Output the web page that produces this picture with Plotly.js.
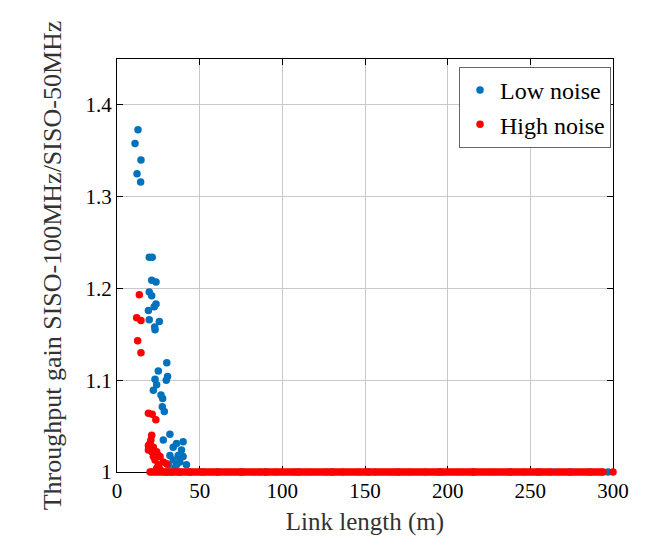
<!DOCTYPE html>
<html>
<head>
<meta charset="utf-8">
<script src="https://cdn.plot.ly/plotly-3.0.1.min.js"></script>
<style>html,body{margin:0;padding:0;background:#fff;}#chart{width:649px;height:546px;}</style>
</head>
<body>
<div id="chart"></div>
<script>
// ---- data ----
const seriesNames = ["Low noise", "High noise"];

// Low noise: points above the baseline
const lowX = [12.7, 10.9, 14.5, 12.1, 14.3, 19.5, 21.3, 21, 23.6, 19.5, 21, 23.6, 22.5, 19, 19.5, 25.6, 23, 22.8,
              30.1, 25, 30.6, 29.8, 23, 24, 22, 26.6, 27.6, 27.4, 28.6, 32, 28, 36, 40, 34, 39, 32, 37, 40, 34, 38, 42, 36, 31, 35];
const lowY = [1.373, 1.358, 1.340, 1.325, 1.316, 1.234, 1.234, 1.209, 1.207, 1.196, 1.192, 1.183, 1.180, 1.176, 1.166, 1.164, 1.155, 1.158,
              1.119, 1.110, 1.104, 1.100, 1.101, 1.095, 1.089, 1.084, 1.080, 1.071, 1.066, 1.041, 1.035, 1.031, 1.033, 1.027, 1.024, 1.018, 1.018, 1.017, 1.013, 1.011, 1.008, 1.008, 1.008, 1.005];
// Low noise: points lying on the gain = 1 baseline
const lowBaseX = [30, 33, 38, 44, 52, 61, 75, 90, 110, 130, 152, 170, 195, 215, 238, 255, 264, 275, 286, 297];

// High noise: points above the baseline
const highX = [13.5, 11.9, 14.5, 12.5, 14.5, 19, 21.3, 23.5, 21, 20.5, 19, 22, 19, 21, 24, 25, 22, 26, 28, 25, 30, 26, 24, 20, 23];
const highY = [1.193, 1.168, 1.165, 1.143, 1.130, 1.064, 1.063, 1.057, 1.040, 1.035, 1.029, 1.027, 1.024, 1.022, 1.022, 1.018, 1.017, 1.017, 1.011, 1.008, 1.009, 1.003, 1.004, 1.031, 1.013];
// High noise: points lying on the gain = 1 baseline
const highBaseX = [20, 21, 22.5, 24, 25, 26.5, 28, 29, 30.5, 32, 33, 34.5, 36, 37, 38.5, 40, 41.5, 43, 44, 45.5, 47, 48.5, 50, 51.5, 53,
                   54.5, 56, 57, 58.5, 60, 61.5, 63, 64.5, 66, 67, 68.5, 70, 71.5, 73, 74.5, 76, 77, 78.5, 80, 81.5, 83, 84.5, 86,
                   87, 88.5, 90, 91.5, 93, 94.5, 96, 97, 98.5, 100, 101.5, 103, 104.5, 106, 107, 108.5, 110, 111.5, 113, 114.5,
                   116, 117, 118.5, 120, 121.5, 123, 124.5, 126, 127, 128.5, 130, 131.5, 133, 134.5, 136, 137, 138.5, 140, 141.5,
                   143, 144.5, 146, 147, 148.5, 150, 151.5, 153, 154.5, 156, 157, 158.5, 160, 161.5, 163, 164.5, 166, 167, 168.5,
                   170, 171.5, 173, 174.5, 176, 177, 178.5, 180, 181.5, 183, 184.5, 186, 187, 188.5, 190, 191.5, 193, 194.5, 196,
                   197, 198.5, 200, 201.5, 203, 204.5, 206, 207, 208.5, 210, 211.5, 213, 214.5, 216, 217, 218.5, 220, 221.5, 223,
                   224.5, 226, 227, 228.5, 230, 231.5, 233, 234.5, 236, 237, 238.5, 240, 241.5, 243, 244.5, 246, 247, 248.5, 250,
                   251.5, 253, 254.5, 256, 257, 258.5, 260, 261.5, 262.5, 265.5, 267, 268.5, 270, 271.5, 273, 274, 276.5, 278,
                   279.5, 281, 282.5, 284, 285.5, 287, 288.5, 290, 291.5, 293, 294, 300];
const BASE = 1.0;

const xTicks = [0, 50, 100, 150, 200, 250, 300];
const yTicks = [1.0, 1.1, 1.2, 1.3, 1.4];
const yTickText = ["1", "1.1", "1.2", "1.3", "1.4"];

// ---- figure ----
const FONT = "Liberation Serif";
const lowColor = "#0072BD";
const highColor = "#FF0000";

const traces = [
  {
    name: seriesNames[0], type: "scatter", mode: "markers",
    x: lowX.concat(lowBaseX), y: lowY.concat(lowBaseX.map(() => BASE)),
    marker: {color: lowColor, size: 7.5, line: {width: 0}}, cliponaxis: false
  },
  {
    name: seriesNames[1], type: "scatter", mode: "markers",
    x: highX.concat(highBaseX), y: highY.concat(highBaseX.map(() => BASE)),
    marker: {color: highColor, size: 7.5, line: {width: 0}}, cliponaxis: false
  }
];

const axisCommon = {
  showline: true, linecolor: "#000", linewidth: 1, mirror: "ticks",
  ticks: "inside", ticklen: 6, tickcolor: "#000", tickwidth: 1,
  showgrid: true, gridcolor: "#c8c8c8", gridwidth: 1, zeroline: false,
  layer: "below traces",
  tickfont: {family: FONT, size: 21, color: "#000"}
};

const layout = {
  width: 649, height: 546,
  margin: {l: 117, r: 36, t: 59, b: 74},
  paper_bgcolor: "#fff", plot_bgcolor: "#fff",
  showlegend: true,
  legend: {
    x: 0.996, y: 0.981, xanchor: "right", yanchor: "top",
    bgcolor: "#fff", bordercolor: "#666", borderwidth: 1,
    font: {family: FONT, size: 24, color: "#000"},
    itemwidth: 30, tracegroupgap: 0
  },
  xaxis: Object.assign({}, axisCommon, {
    range: [0, 300], tickvals: xTicks, ticktext: xTicks.map(String),
    title: {text: "Link length (m)", font: {family: FONT, size: 25, color: "#333"}, standoff: 10}
  }),
  yaxis: Object.assign({}, axisCommon, {
    range: [1.0, 1.45], tickvals: yTicks, ticktext: yTickText,
    title: {text: "Throughput gain SISO-100MHz/SISO-50MHz", font: {family: FONT, size: 26, color: "#333"}, standoff: 16}
  })
};

Plotly.newPlot("chart", traces, layout, {displayModeBar: false, staticPlot: true});
</script>
</body>
</html>
